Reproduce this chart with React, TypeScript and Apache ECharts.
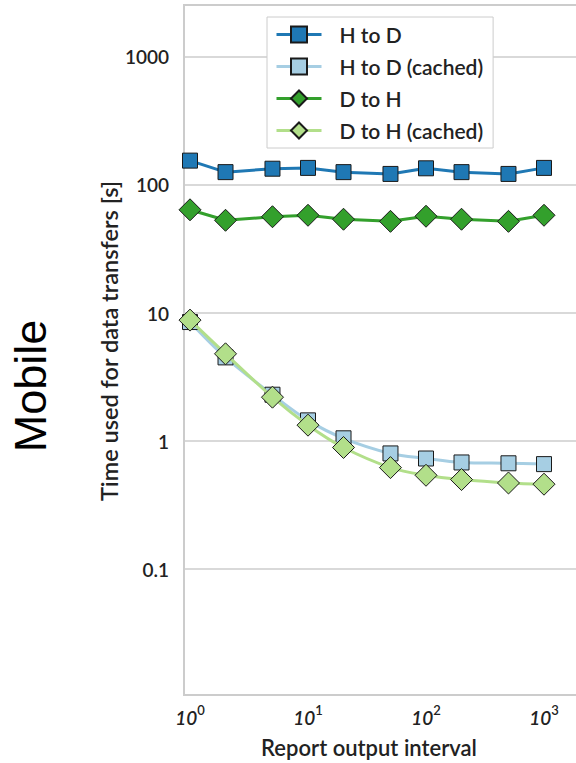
import React, { useEffect, useRef } from "react";
import * as echarts from "echarts";

const xValues = [1, 2, 5, 10, 20, 50, 100, 200, 500, 1000];
const hToD = [155, 126, 134, 136, 126, 122, 135, 126, 122, 136];
const hToDCached = [8.5, 4.5, 2.3, 1.45, 1.05, 0.8, 0.73, 0.68, 0.67, 0.66];
const dToH = [64, 53, 56.5, 58, 54, 52, 57, 54, 52, 58];
const dToHCached = [8.8, 4.8, 2.2, 1.33, 0.89, 0.62, 0.54, 0.5, 0.47, 0.46];

const seriesNames = ["H to D", "H to D (cached)", "D to H", "D to H (cached)"];
const seriesValues = [hToD, hToDCached, dToH, dToHCached];
const seriesColors = ["#1f78b4", "#a6cee3", "#33a02c", "#b2df8a"];
const seriesSymbols = ["rect", "rect", "diamond", "diamond"];
const seriesSmooth = [false, true, false, true];

const yTickLabels: Record<string, string> = { "-1": "0.1", "0": "1", "1": "10", "2": "100", "3": "1000" };
const xTickExponents = [0, 1, 2, 3];

const FONT = "Lato";
const TEXT = "#222222";
const WEIGHT = 600;

export default function App() {
  const ref = useRef<HTMLDivElement>(null);
  useEffect(() => {
    if (!ref.current) return;
    const chart = echarts.init(ref.current, null, { renderer: "svg" });
    const option: any = {
      animation: false,
      backgroundColor: "#fff",
      grid: {
        left: 184,
        right: 17,
        top: 5,
        bottom: 68,
        show: true,
        borderColor: "#cccccc",
        borderWidth: 2,
        backgroundColor: "transparent",
      },
      legend: {
        orient: "vertical",
        left: 267,
        top: 17,
        padding: [7, 10, 7, 8],
        itemGap: 11,
        itemWidth: 45,
        itemHeight: 20,
        borderColor: "#cccccc",
        borderWidth: 1,
        backgroundColor: "#fff",
        lineStyle: { width: 3 },
        textStyle: { fontSize: 21, fontFamily: FONT, fontWeight: WEIGHT, color: TEXT, padding: [0, 0, 0, 13] },
        data: seriesNames,
      },
      xAxis: {
        type: "log",
        logBase: 10,
        min: Math.pow(10, -6 / 118),
        max: Math.pow(10, 3.5),
        axisLine: { show: false },
        axisTick: { show: false },
        splitLine: { show: false },
        axisLabel: {
          margin: 8,
          showMinLabel: false,
          showMaxLabel: false,
          formatter: (v: number) => {
            const l = Math.log10(v);
            const e = Math.round(l);
            if (Math.abs(l - e) > 1e-6 || !xTickExponents.includes(e)) return "";
            return `{m|10}{e|${e}}`;
          },
          rich: {
            m: { fontSize: 19, fontFamily: FONT, fontWeight: WEIGHT, color: TEXT, lineHeight: 24, verticalAlign: "bottom", fontStyle: "italic" },
            e: { fontSize: 13, fontFamily: FONT, fontWeight: WEIGHT, color: TEXT, lineHeight: 13, verticalAlign: "top" },
          },
        },
      },
      yAxis: {
        type: "log",
        logBase: 10,
        min: Math.pow(10, -1.984),
        max: Math.pow(10, 3.406),
        axisLine: { show: false },
        axisTick: { show: false },
        splitLine: { show: true, lineStyle: { color: "#cccccc", width: 1.5 } },
        axisLabel: {
          margin: 15,
          fontSize: 19,
          fontFamily: FONT,
          fontWeight: WEIGHT,
          color: TEXT,
          formatter: (v: number) => {
            const l = Math.log10(v);
            const e = Math.round(l);
            if (Math.abs(l - e) > 1e-6) return "";
            return yTickLabels[String(e)] ?? "";
          },
        },
      },
      graphic: [
        {
          type: "text",
          x: 369,
          y: 747,
          style: { text: "Report output interval", fontSize: 22, fontFamily: FONT, fontWeight: WEIGHT, fill: TEXT, align: "center", verticalAlign: "middle" },
        },
        {
          type: "text",
          x: 109,
          y: 341,
          rotation: Math.PI / 2,
          style: { text: "Time used for data transfers [s]", fontSize: 23.5, fontFamily: FONT, fontWeight: WEIGHT, fill: TEXT, align: "center", verticalAlign: "middle" },
        },
        {
          type: "text",
          x: 30,
          y: 386,
          rotation: Math.PI / 2,
          style: { text: "Mobile", fontSize: 45, fontFamily: "Liberation Sans", fill: "#000", align: "center", verticalAlign: "middle" },
        },
      ],
      series: seriesNames.map((name, i) => ({
        name,
        type: "line",
        data: xValues.map((x, j) => [x, seriesValues[i][j]]),
        symbol: seriesSymbols[i],
        symbolSize: seriesSymbols[i] === "rect" ? 15 : 22,
        smooth: seriesSmooth[i] ? 0.35 : false,
        lineStyle: { color: seriesColors[i], width: 3 },
        itemStyle: { color: seriesColors[i], borderColor: "#1a1a1a", borderWidth: 1 },
        z: 2 + i,
      })),
    };
    chart.setOption(option);
    return () => chart.dispose();
  }, []);
  return (
    <div style={{ position: "fixed", left: 0, top: 0, width: 576, height: 763, overflow: "hidden", background: "#fff" }}>
      <div ref={ref} style={{ width: 620, height: 763 }} />
    </div>
  );
}
